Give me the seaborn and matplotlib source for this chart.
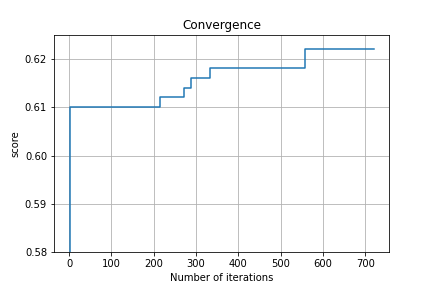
import matplotlib
matplotlib.use("Agg")
import matplotlib.pyplot as plt
import seaborn as sns
import pandas as pd

# iterations where the best score improved, and the best score from there on
iterations = [0, 1, 215, 272, 288, 332, 558, 720]
best_score = [0.50, 0.610, 0.612, 0.614, 0.616, 0.618, 0.622, 0.622]

df = pd.DataFrame({"iteration": iterations, "score": best_score})

fig, ax = plt.subplots(figsize=(6, 4), dpi=72)
fig.subplots_adjust(left=0.125, right=0.9, top=0.88, bottom=0.124)
sns.lineplot(x="iteration", y="score", data=df, drawstyle="steps-post",
             color="#1f77b4", linewidth=1.5, ax=ax)

ax.set_ylim(0.58, 0.625)
ax.set_yticks([0.58, 0.59, 0.60, 0.61, 0.62])
ax.set_xticks(range(0, 701, 100))
ax.set_title("Convergence")
ax.set_xlabel("Number of iterations")
ax.set_ylabel("score")
ax.grid(True)

fig.savefig("out.png", dpi=72)
